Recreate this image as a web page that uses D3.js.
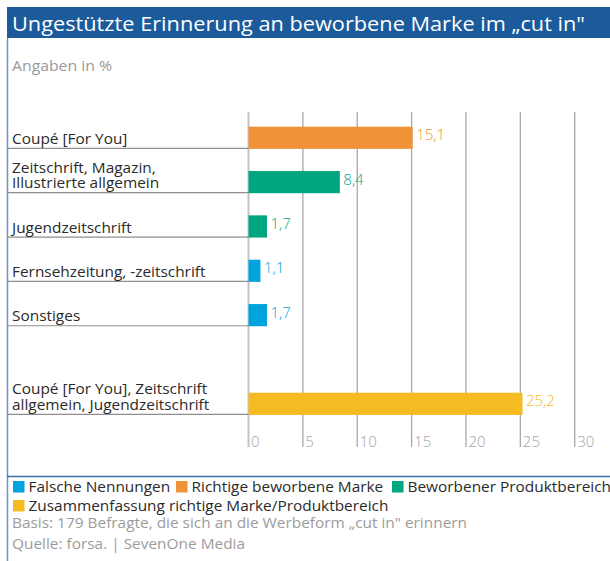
<!DOCTYPE html>
<html><head><meta charset="utf-8">
<script src="https://cdn.jsdelivr.net/npm/d3@7"></script>
<style>
body{margin:0;background:#fff;}
svg{display:block;font-family:"Open Sans", Roboto, sans-serif;}
</style></head>
<body>
<svg id="chart" width="610" height="561"></svg>
<script>
const title = "Ungestützte Erinnerung an beworbene Marke im „cut in\"";
const subtitle = "Angaben in %";
const categories = [
  ["Coupé [For You]"],
  ["Zeitschrift, Magazin,", "Illustrierte allgemein"],
  ["Jugendzeitschrift"],
  ["Fernsehzeitung, -zeitschrift"],
  ["Sonstiges"],
  ["Coupé [For You], Zeitschrift", "allgemein, Jugendzeitschrift"]
];
const values = [15.1, 8.4, 1.7, 1.1, 1.7, 25.2];
const valueLabels = ["15,1", "8,4", "1,7", "1,1", "1,7", "25,2"];
const seriesOf = [1, 2, 2, 0, 0, 3];
const seriesNames = ["Falsche Nennungen", "Richtige beworbene Marke", "Beworbener Produktbereich", "Zusammenfassung richtige Marke/Produktbereich"];
const seriesColors = ["#00a3dc", "#ef9238", "#00a67f", "#f5bb22"];
const ticks = [0, 5, 10, 15, 20, 25, 30];
const notes = ["Basis: 179 Befragte, die sich an die Werbeform „cut in\" erinnern", "Quelle: forsa. | SevenOne Media"];

const svg = d3.select("#chart");
const keys = categories.map((c, i) => "c" + i);
const slotKeys = [...keys.slice(0, 5), "gap", keys[5]];

const x = d3.scaleLinear().domain([0, 30]).range([248.5, 574.7]);
const y = d3.scaleBand().domain(slotKeys).range([115.6, 426]).paddingInner(0.5).paddingOuter(0.25);

// stretch text horizontally to a target width
function fit(sel, w) {
  sel.each(function() {
    d3.select(this).attr("textLength", w).attr("lengthAdjust", "spacingAndGlyphs");
  });
}
// widen text by a factor (reference face is wider than Open Sans)
function widen(sel, f) {
  sel.each(function() {
    const n = this.getComputedTextLength();
    if (n > 0) d3.select(this).attr("textLength", n * f).attr("lengthAdjust", "spacingAndGlyphs");
  });
}
const WF = 1.1;

// title bar
svg.append("rect").attr("x", 7).attr("y", 7).attr("width", 603).attr("height", 31).attr("fill", "#1b5a9b");
svg.append("text").attr("x", 12).attr("y", 31).attr("fill", "#fff").attr("font-size", 19.5).text(title).call(fit, 573);
// left border
svg.append("line").attr("x1", 7.5).attr("x2", 7.5).attr("y1", 38).attr("y2", 561).attr("stroke", "#6b93c9").attr("stroke-width", 1.5);
svg.append("text").attr("x", 12).attr("y", 71).attr("fill", "#9a9a9a").attr("font-size", 14).text(subtitle).call(fit, 100);

// grid
svg.append("g").selectAll("line").data(ticks).join("line")
  .attr("x1", d => x(d)).attr("x2", d => x(d)).attr("y1", 112).attr("y2", 447)
  .attr("stroke", (d) => d === 0 ? "#c4c4c4" : "#a8a8a8").attr("stroke-width", d => d === 0 ? 2 : 1.3);
svg.append("g").selectAll("text").data(ticks).join("text")
  .attr("x", d => x(d) + 2.5).attr("y", 447).attr("fill", "#a3a3a3").attr("font-size", 15).attr("font-weight", 300)
  .text(d => d);

// separators
svg.append("g").selectAll("line").data(keys).join("line")
  .attr("x1", 8).attr("x2", x(0)).attr("y1", k => y(k) + y.bandwidth() - 0.5).attr("y2", k => y(k) + y.bandwidth() - 0.5)
  .attr("stroke", "#8e8e8e").attr("stroke-width", 1.2);

// labels (one text element per line)
const labG = svg.append("g");
categories.forEach((lines, i) => {
  const bottom = y(keys[i]) + y.bandwidth();
  lines.forEach((l, j) => {
    labG.append("text").attr("x", 12).attr("y", bottom - 5 - (lines.length - 1 - j) * 15.5)
      .attr("fill", "#2a2a2a").attr("font-size", 14).text(l).call(widen, WF);
  });
});

// bars
svg.append("g").selectAll("rect").data(values).join("rect")
  .attr("x", x(0)).attr("y", (d, i) => y(keys[i])).attr("width", d => x(d) - x(0)).attr("height", y.bandwidth())
  .attr("fill", (d, i) => seriesColors[seriesOf[i]]);
svg.append("g").selectAll("text").data(values).join("text")
  .attr("x", d => x(d) + 3.5).attr("y", (d, i) => y(keys[i]) + y.bandwidth() / 2 + 2.5)
  .attr("fill", (d, i) => seriesColors[seriesOf[i]]).attr("font-size", 15).attr("font-weight", 300)
  .text((d, i) => valueLabels[i]);

// legend separator
svg.append("line").attr("x1", 7).attr("x2", 610).attr("y1", 476.5).attr("y2", 476.5).attr("stroke", "#3d6fb0").attr("stroke-width", 1.5);

const legPos = [[13, 487], [176, 487], [392, 487], [13, 506]];
const leg = svg.append("g").selectAll("g").data(seriesNames).join("g")
  .attr("transform", (d, i) => `translate(${legPos[i][0]},${legPos[i][1]})`);
leg.append("rect").attr("x", 0).attr("y", -6).attr("width", 11.5).attr("height", 11.5).attr("fill", (d, i) => seriesColors[i]);
leg.append("text").attr("x", 15.5).attr("y", 4.8).attr("fill", "#2a2a2a").attr("font-size", 14).text(d => d).call(widen, WF);

svg.append("g").selectAll("text").data(notes).join("text")
  .attr("x", 12).attr("y", (d, i) => 528 + i * 21).attr("fill", "#9c9c9c").attr("font-size", 14).text(d => d).call(widen, WF);
</script>
</body></html>
